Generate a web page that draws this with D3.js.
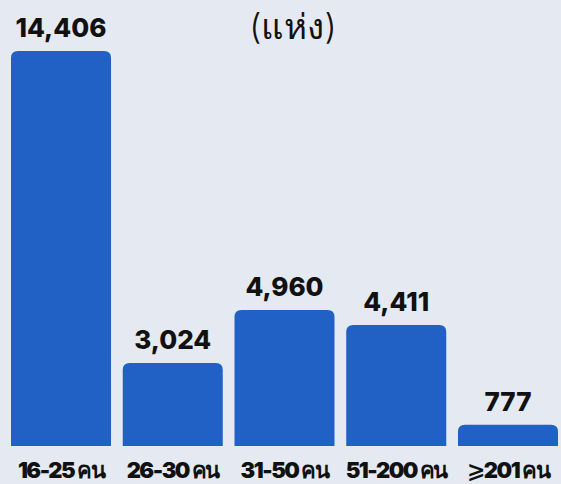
<!DOCTYPE html>
<html>
<head>
<meta charset="utf-8">
<script src="https://cdn.jsdelivr.net/npm/d3@7"></script>
<style>
  body { margin: 0; background: #e5e9f1; }
  text { font-family: "Inter", "Noto Sans", "DejaVu Sans", sans-serif; }
</style>
</head>
<body>
<script>
var categories = ["16-25 คน", "26-30 คน", "31-50 คน", "51-200 คน", "⩾201 คน"];
var values = [14406, 3024, 4960, 4411, 777];
var unitLabel = "(แห่ง)";

var width = 561;
var height = 484;
var baseY = 446;
var radius = 7;

var svg = d3.select("body").append("svg")
    .attr("width", width)
    .attr("height", height);

svg.append("rect").attr("width", width).attr("height", height).attr("fill", "#e5e9f1");

var x = d3.scaleBand()
    .domain(categories)
    .range([11, 558])
    .paddingInner(0.105)
    .paddingOuter(0);

var y = d3.scaleLinear()
    .domain([0, 14406])
    .range([baseY, 51]);

// bar with rounded top corners only
function barPath(d, i) {
    var x0 = x(categories[i]), w = x.bandwidth();
    var top = y(d), r = Math.min(radius, (baseY - top) / 2);
    return "M" + x0 + "," + baseY +
        "V" + (top + r) +
        "Q" + x0 + "," + top + " " + (x0 + r) + "," + top +
        "H" + (x0 + w - r) +
        "Q" + (x0 + w) + "," + top + " " + (x0 + w) + "," + (top + r) +
        "V" + baseY + "Z";
}

svg.selectAll(".bar")
    .data(values)
    .enter().append("path")
    .attr("class", "bar")
    .attr("d", barPath)
    .attr("fill", "#2160c4");

svg.selectAll(".val")
    .data(values)
    .enter().append("text")
    .attr("class", "val")
    .attr("x", function(d, i) { return x(categories[i]) + x.bandwidth() / 2; })
    .attr("y", function(d) { return y(d) - 14; })
    .attr("text-anchor", "middle")
    .style("font-size", "26px")
    .style("font-weight", "800")
    .attr("fill", "#111")
    .text(function(d) { return d3.format(",")(d); });

svg.selectAll(".cat")
    .data(categories)
    .enter().append("text")
    .attr("class", "cat")
    .attr("x", function(d) { return x(d) + x.bandwidth() / 2; })
    .attr("y", 478)
    .attr("text-anchor", "middle")
    .style("font-size", "22px")
    .style("font-weight", "900")
    .style("letter-spacing", "-1.5px")
    .attr("fill", "#111")
    .text(function(d) { return d; });

svg.append("text")
    .attr("x", 293)
    .attr("y", 39)
    .attr("text-anchor", "middle")
    .style("font-size", "35px")
    .style("font-weight", "300")
    .attr("fill", "#111")
    .text(unitLabel);
</script>
</body>
</html>
